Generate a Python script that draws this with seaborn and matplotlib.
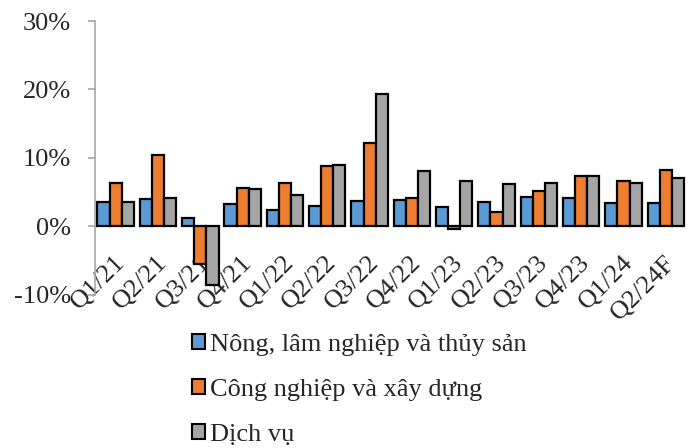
import matplotlib
matplotlib.use("Agg")
import matplotlib.pyplot as plt
import matplotlib.transforms as mtransforms
from matplotlib.ticker import FuncFormatter, MultipleLocator
from matplotlib.patches import Patch
import seaborn as sns
import pandas as pd

quarters = ["Q1/21", "Q2/21", "Q3/21", "Q4/21", "Q1/22", "Q2/22", "Q3/22",
            "Q4/22", "Q1/23", "Q2/23", "Q3/23", "Q4/23", "Q1/24", "Q2/24F"]
series_names = ["Nông, lâm nghiệp và thủy sản", "Công nghiệp và xây dựng", "Dịch vụ"]
nong_lam = [3.55, 4.0, 1.2, 3.2, 2.4, 3.0, 3.7, 3.85, 2.9, 3.6, 4.3, 4.1, 3.45, 3.35]
cong_nghiep = [6.3, 10.4, -5.5, 5.6, 6.4, 8.75, 12.2, 4.2, -0.4, 2.1, 5.2, 7.35, 6.7, 8.3]
dich_vu = [3.6, 4.2, -8.6, 5.45, 4.6, 9.0, 19.35, 8.1, 6.6, 6.2, 6.4, 7.3, 6.3, 7.05]
colors = ["#5B9BD5", "#ED7D31", "#A5A5A5"]

rows = []
for name, vals in zip(series_names, [nong_lam, cong_nghiep, dich_vu]):
    for q, v in zip(quarters, vals):
        rows.append({"quarter": q, "value": v, "sector": name})
df = pd.DataFrame(rows)

sns.set_style("white")
plt.rcParams["font.family"] = ["Liberation Serif", "DejaVu Serif"]

fig = plt.figure(figsize=(6.97, 4.48), dpi=100)
ax = fig.add_axes([0.1356, 0.342, 0.8500, 0.611])

sns.barplot(data=df, x="quarter", y="value", hue="sector", order=quarters,
            hue_order=series_names, palette=colors, saturation=1, width=0.86,
            edgecolor="black", linewidth=1.6, ax=ax, legend=False)

ax.set_xlim(-0.5, len(quarters) - 0.5)
ax.set_ylim(-10, 30)
ax.yaxis.set_major_locator(MultipleLocator(10))
ax.yaxis.set_major_formatter(FuncFormatter(lambda v, p: f"{v:.0f}%"))
ax.set_xlabel("")
ax.set_ylabel("")

for s in ["top", "right", "bottom"]:
    ax.spines[s].set_visible(False)
ax.spines["left"].set_color("#A6A6A6")
ax.spines["left"].set_linewidth(1.2)

ax.tick_params(axis="y", which="major", direction="out", length=5, width=1.2,
               color="#A6A6A6", pad=12, labelsize=19, left=True)
ax.tick_params(axis="x", length=0, pad=-31, labelsize=19)
ax.set_xticks(range(len(quarters)))
ax.set_xticklabels(quarters, rotation=45, ha="right", va="top",
                   rotation_mode="anchor")
offset = mtransforms.ScaledTranslation(-2 / 100, 0, fig.dpi_scale_trans)
for lab in ax.get_xticklabels():
    lab.set_transform(lab.get_transform() + offset)

handles = [Patch(facecolor=c, edgecolor="black", linewidth=1.5) for c in colors]
fig.legend(handles, series_names, loc="upper left",
           bbox_to_anchor=(192 / 697, 1 - 334 / 448), frameon=False,
           fontsize=19, handlelength=0.48, handleheight=0.48, handletextpad=0.2,
           labelspacing=0.87, borderpad=0, borderaxespad=0)

fig.savefig("out.png", dpi=100)
